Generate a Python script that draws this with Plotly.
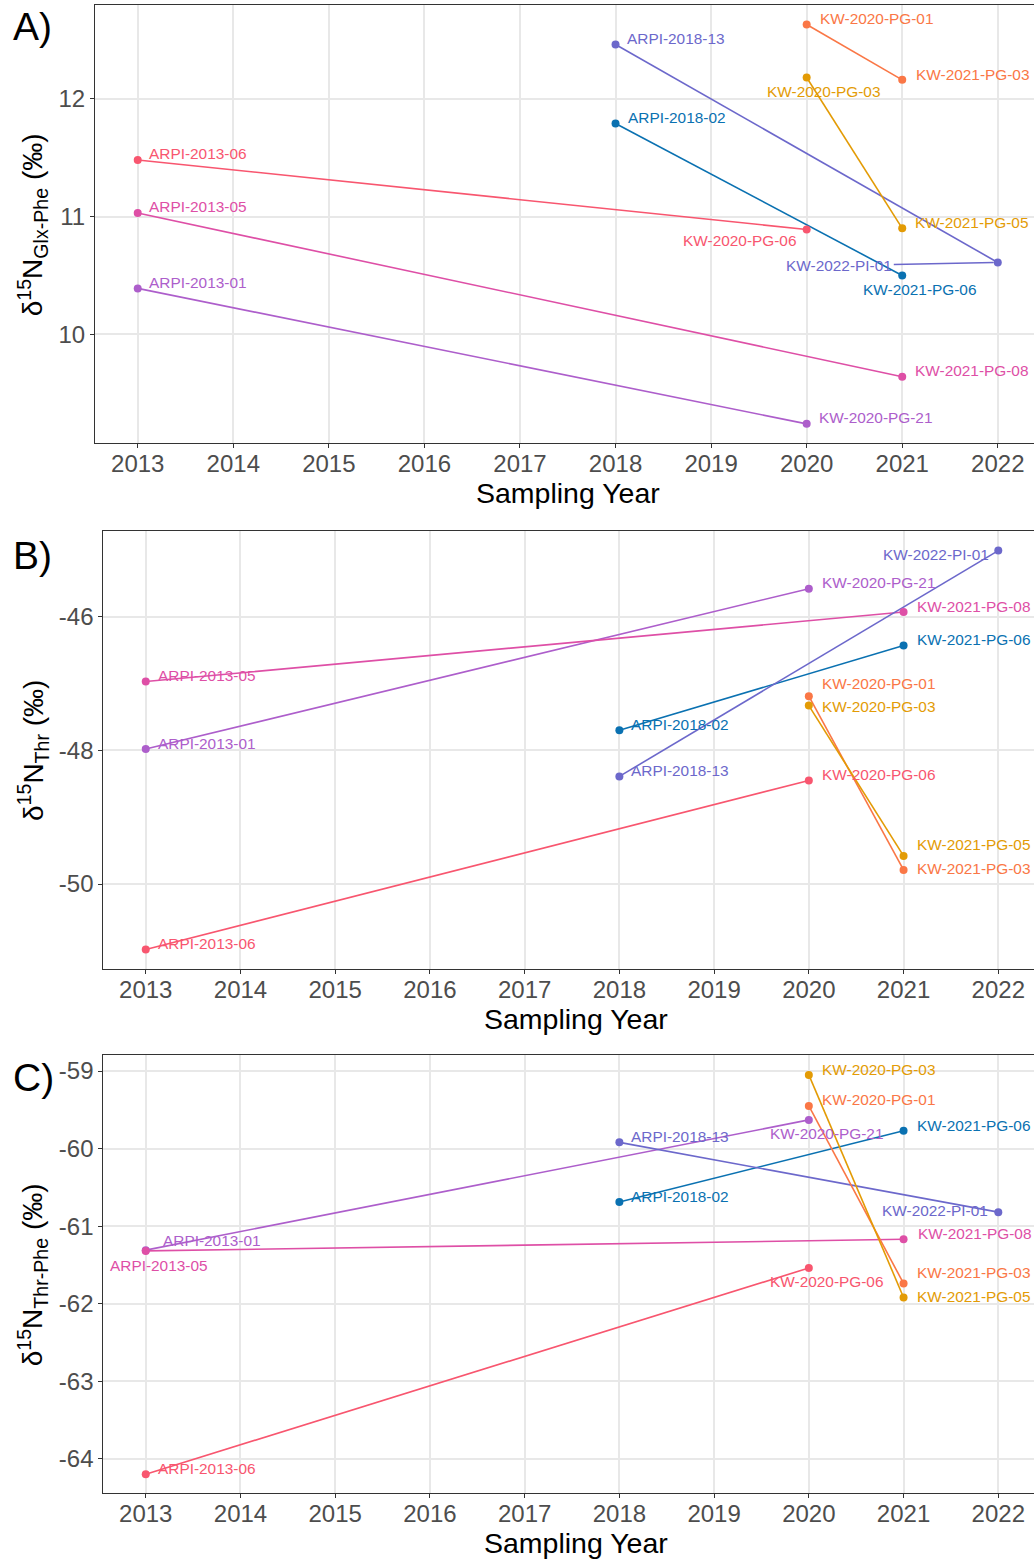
import plotly.graph_objects as go

# ---- data -------------------------------------------------------------
samples = [
    "ARPI-2013-01", "ARPI-2013-05", "ARPI-2013-06", "ARPI-2018-02", "ARPI-2018-13",
    "KW-2020-PG-01", "KW-2020-PG-03", "KW-2020-PG-06", "KW-2020-PG-21",
    "KW-2021-PG-03", "KW-2021-PG-05", "KW-2021-PG-06", "KW-2021-PG-08",
    "KW-2022-PI-01",
]
years = [2013, 2013, 2013, 2018, 2018, 2020, 2020, 2020, 2020,
         2021, 2021, 2021, 2021, 2022]

glx_phe = [10.39, 11.03, 11.48, 11.79, 12.46, 12.63, 12.18, 10.89, 9.24,
           12.16, 10.90, 10.50, 9.64, 10.61]
thr = [-47.98, -46.97, -50.98, -47.70, -48.39, -47.19, -47.33, -48.45, -45.58,
       -49.79, -49.58, -46.43, -45.93, -45.01]
thr_phe = [-61.31, -61.32, -64.20, -60.69, -59.92, -59.45, -59.05, -61.54, -59.63,
           -61.74, -61.92, -59.77, -61.17, -60.82]

# individuals re-sampled across years (first sample -> later sample)
pairs = [
    ("ARPI-2013-01", "KW-2020-PG-21"),
    ("ARPI-2013-05", "KW-2021-PG-08"),
    ("ARPI-2013-06", "KW-2020-PG-06"),
    ("ARPI-2018-02", "KW-2021-PG-06"),
    ("ARPI-2018-13", "KW-2022-PI-01"),
    ("KW-2020-PG-01", "KW-2021-PG-03"),
    ("KW-2020-PG-03", "KW-2021-PG-05"),
]
pair_colors = ["#AD5ECB", "#DE4FA6", "#F8566F", "#0A71B1", "#6C68CB", "#FA7746", "#E39B05"]

year_ticks = list(range(2013, 2023))
y_ticks_a = [10, 11, 12]
y_ticks_b = [-50, -48, -46]
y_ticks_c = [-64, -63, -62, -61, -60, -59]

# ---- label placement (anchor, dx px, dy px; dy positive = down) -------
label_pos = {
    "A": {
        "ARPI-2013-06": ("left", 9, -6), "ARPI-2013-05": ("left", 9, -6),
        "ARPI-2013-01": ("left", 9, -6), "KW-2020-PG-06": ("right", -8.5, 11.3),
        "KW-2021-PG-08": ("left", 11, -6), "KW-2020-PG-21": ("left", 10.6, -6),
        "ARPI-2018-13": ("left", 9.3, -5.7), "ARPI-2018-02": ("left", 10, -6),
        "KW-2022-PI-01": ("arrow", -158.5, 3), "KW-2021-PG-06": ("center", 17, 14),
        "KW-2020-PG-01": ("left", 11.3, -5.7), "KW-2021-PG-03": ("left", 11.7, -5),
        "KW-2020-PG-03": ("center", 17, 13.7), "KW-2021-PG-05": ("left", 11, -5.4),
    },
    "B": {
        "ARPI-2013-05": ("left", 10, -5.6), "ARPI-2013-01": ("left", 10, -6),
        "ARPI-2013-06": ("left", 10, -6.4), "KW-2022-PI-01": ("center", -62, 4.4),
        "KW-2020-PG-21": ("left", 11, -6), "KW-2021-PG-08": ("left", 11, -5.3),
        "KW-2021-PG-06": ("left", 11, -6.4), "KW-2020-PG-01": ("left", 11.3, -12.7),
        "KW-2020-PG-03": ("left", 11.3, 1.3), "ARPI-2018-02": ("left", 9.7, -6.3),
        "ARPI-2018-13": ("left", 9.7, -6.4), "KW-2020-PG-06": ("left", 11.3, -5.7),
        "KW-2021-PG-05": ("left", 11, -11), "KW-2021-PG-03": ("left", 11, -1),
    },
    "C": {
        "ARPI-2013-01": ("left", 15, -9.7), "ARPI-2013-05": ("center", 13, 15),
        "ARPI-2013-06": ("left", 10, -5.7), "KW-2020-PG-03": ("left", 11.3, -5.7),
        "KW-2020-PG-01": ("left", 11.3, -6.4), "KW-2020-PG-21": ("center", 17.3, 14),
        "KW-2021-PG-06": ("left", 11, -5.6), "ARPI-2018-13": ("left", 9.7, -6),
        "ARPI-2018-02": ("left", 9.7, -6), "KW-2022-PI-01": ("center", -62.8, -2),
        "KW-2021-PG-08": ("left", 12, -6), "KW-2020-PG-06": ("center", 17.6, 13.6),
        "KW-2021-PG-03": ("left", 11, -10.7), "KW-2021-PG-05": ("left", 11, -1.3),
    },
}

# ---- figure geometry (pixels) ------------------------------------------
W, H = 1034, 1559
FONT = "Liberation Sans, Arial, Helvetica, sans-serif"


def px_x(p):
    return p / W


def px_y(p):
    return 1 - p / H


panels = [
    # key, values, left px, top px, bottom px, x range, y range, y ticks, y title
    ("A", glx_phe, 95, 5.3, 443.3, [2012.553, 2022.379], [9.075, 12.793], y_ticks_a,
     "δ<sup>15</sup>N<sub>Glx-Phe</sub> (‰)"),
    ("B", thr, 103.3, 531, 969, [2012.552, 2022.377], [-51.272, -44.717], y_ticks_b,
     "δ<sup>15</sup>N<sub>Thr</sub> (‰)"),
    ("C", thr_phe, 103.3, 1055.3, 1493.3, [2012.552, 2022.377], [-64.446, -58.797], y_ticks_c,
     "δ<sup>15</sup>N<sub>Thr-Phe</sub> (‰)"),
]

fig = go.Figure()
annotations = []
idx = {s: i for i, s in enumerate(samples)}

for n, (key, vals, left, top, bottom, xr, yr, yt, ytitle) in enumerate(panels, start=1):
    xa = "x" if n == 1 else f"x{n}"
    ya = "y" if n == 1 else f"y{n}"
    sfx = "" if n == 1 else str(n)

    # connecting lines first, then points on top
    for (a, b), col in zip(pairs, pair_colors):
        fig.add_trace(go.Scatter(
            x=[years[idx[a]], years[idx[b]]], y=[vals[idx[a]], vals[idx[b]]],
            mode="lines", line=dict(color=col, width=1.6),
            xaxis=xa, yaxis=ya, showlegend=False, hoverinfo="skip"))
    for (a, b), col in zip(pairs, pair_colors):
        fig.add_trace(go.Scatter(
            x=[years[idx[a]], years[idx[b]]], y=[vals[idx[a]], vals[idx[b]]],
            mode="markers", marker=dict(color=col, size=8),
            text=[a, b], xaxis=xa, yaxis=ya, showlegend=False))

    # sample labels
    for (a, b), col in zip(pairs, pair_colors):
        for s in (a, b):
            anchor, dx, dy = label_pos[key][s]
            base = dict(x=years[idx[s]], y=vals[idx[s]], xref=xa, yref=ya, text=s,
                        font=dict(family=FONT, size=15.4, color=col))
            if anchor == "arrow":
                annotations.append(dict(**base, showarrow=True, arrowhead=0,
                                        arrowcolor=col, arrowwidth=1.5,
                                        ax=dx, ay=dy, standoff=4))
            else:
                annotations.append(dict(**base, showarrow=False, xanchor=anchor,
                                        yanchor="middle", xshift=dx, yshift=-dy))

    axis_common = dict(showgrid=True, gridcolor="#E8E8E8", gridwidth=1.5,
                       zeroline=False, showline=True, linecolor="#333333", linewidth=1,
                       ticks="outside", ticklen=4, tickcolor="#333333", tickwidth=1,
                       tickfont=dict(family=FONT, size=24, color="#4D4D4D"))
    fig.update_layout(**{
        f"xaxis{sfx}": dict(axis_common, domain=[px_x(left), 1], range=xr,
                            tickvals=year_ticks, ticktext=[str(v) for v in year_ticks],
                            mirror=True, anchor=ya, ticklabelstandoff=-5),
        f"yaxis{sfx}": dict(axis_common, domain=[px_y(bottom), px_y(top)], range=yr,
                            tickvals=yt, ticktext=[str(v) for v in yt], anchor=xa),
    })

    # axis titles and panel tag
    mid_y = (top + bottom) / 2
    annotations.append(dict(x=px_x(33), y=px_y(mid_y + 1), xref="paper", yref="paper",
                            text=ytitle, textangle=-90, showarrow=False,
                            xanchor="center", yanchor="middle",
                            font=dict(family=FONT, size=28, color="black")))
    annotations.append(dict(x=px_x((left + left + 946) / 2), y=px_y(bottom + 50),
                            xref="paper", yref="paper", text="Sampling Year",
                            showarrow=False, xanchor="center", yanchor="middle",
                            font=dict(family=FONT, size=28.5, color="black")))
    tag_y = {"A": 27, "B": 556, "C": 1077}[key]
    annotations.append(dict(x=px_x(11), y=px_y(tag_y), xref="paper", yref="paper",
                            text=f"{key})", showarrow=False, xanchor="left",
                            yanchor="middle",
                            font=dict(family=FONT, size=39, color="black")))

fig.update_layout(
    width=W, height=H, margin=dict(l=0, r=0, t=0, b=0),
    paper_bgcolor="white", plot_bgcolor="white",
    annotations=annotations, showlegend=False,
    font=dict(family=FONT),
)

fig.write_html("out.html")
